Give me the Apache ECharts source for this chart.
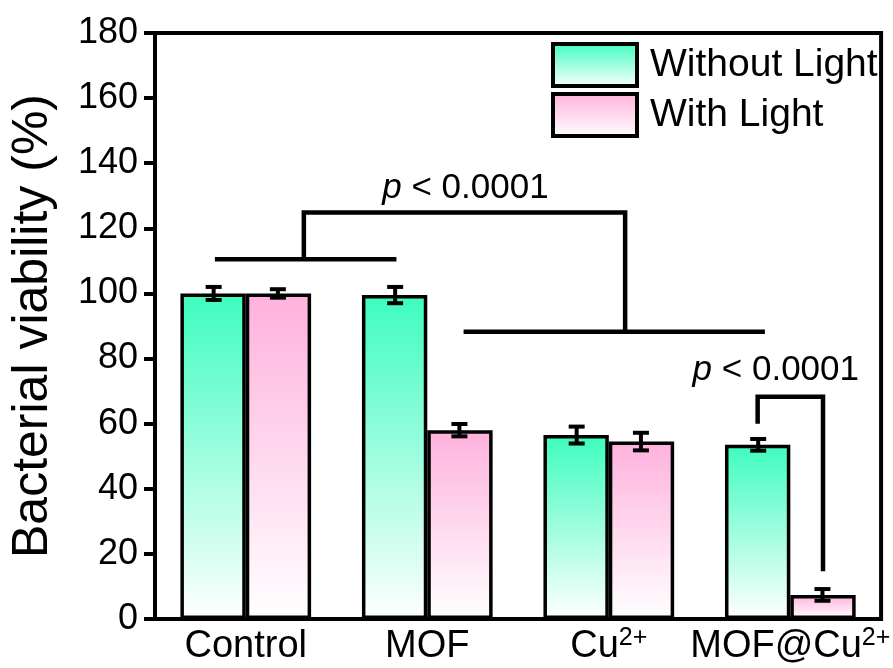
<!DOCTYPE html>
<html>
<head>
<meta charset="utf-8">
<script src="https://cdn.jsdelivr.net/npm/echarts@6/dist/echarts.min.js"></script>
<style>
  html, body { margin: 0; padding: 0; background: #fff; }
  #main { width: 893px; height: 668px; }
</style>
</head>
<body>
<div id="main"></div>
<script>
// data
var categories = ['Control', 'MOF', 'Cu2+', 'MOF@Cu2+'];
var withoutLight = [100, 99.5, 56.5, 53.5];
var withoutLightErr = [2, 2.5, 2.6, 1.8];
var withLight = [100, 58, 54.5, 7.4];
var withLightErr = [1.3, 1.9, 2.7, 1.8];

// significance brackets, x in category units (0 = Control centre), y in %
var brackets = [
    [[-0.17, 110.5], [0.83, 110.5]],
    [[0.32, 110.5], [0.32, 124.9], [2.09, 124.9], [2.09, 88.2]],
    [[1.2, 88.2], [2.86, 88.2]],
    [[2.82, 60], [2.82, 68.3], [3.18, 68.3], [3.18, 14.7]]
];
var pLabels = [
    { x: 1.21, y: 132.3, text: '{i|p} < 0.0001' },
    { x: 2.92, y: 76.5, text: '{i|p} < 0.0001' }
];

var FONT = 'Liberation Sans, Arial, sans-serif';
var BAR_HALF = 0.177; // half bar width as share of a category band

function grad(top) {
    return {
        type: 'linear', x: 0, y: 0, x2: 0, y2: 1,
        colorStops: [{ offset: 0, color: top }, { offset: 1, color: '#ffffff' }]
    };
}
var greenFill = grad('#3dfcbe');
var pinkFill = grad('#ffb1dc');

function errData(vals, errs, side) {
    return vals.map(function (v, i) { return [i, v, errs[i], side]; });
}

function renderErr(params, api) {
    var i = api.value(0), v = api.value(1), e = api.value(2), side = api.value(3);
    var bw = api.size([1, 0])[0];
    var cx = api.coord([i, v])[0] + side * bw * BAR_HALF;
    var yHi = api.coord([i, v + e])[1];
    var yLo = api.coord([i, v - e])[1];
    var cap = 8;
    var st = { stroke: '#000', lineWidth: 4 };
    return {
        type: 'group',
        children: [
            { type: 'line', shape: { x1: cx, y1: yHi, x2: cx, y2: yLo }, style: st },
            { type: 'line', shape: { x1: cx - cap, y1: yHi, x2: cx + cap, y2: yHi }, style: st },
            { type: 'line', shape: { x1: cx - cap, y1: yLo, x2: cx + cap, y2: yLo }, style: st }
        ]
    };
}

var myChart = echarts.init(document.getElementById('main'));
var option = {
    backgroundColor: '#fff',
    animation: false,
    grid: {
        left: 155, right: 9, top: 33, bottom: 47,
        show: true, borderColor: '#000', borderWidth: 4
    },
    legend: {
        orient: 'vertical',
        left: 551, top: 42, padding: 0,
        itemWidth: 84, itemHeight: 42, itemGap: 4,
        icon: 'rect',
        textStyle: { fontSize: 39, fontFamily: FONT, color: '#000', padding: [0, 0, 0, 8] },
        data: [
            { name: 'Without Light', itemStyle: { color: greenFill, borderColor: '#000', borderWidth: 4 } },
            { name: 'With Light', itemStyle: { color: pinkFill, borderColor: '#000', borderWidth: 4 } }
        ]
    },
    xAxis: [
        {
            type: 'category',
            data: categories,
            axisLine: { lineStyle: { color: '#000', width: 4 } },
            axisTick: { show: false },
            axisLabel: {
                interval: 0,
                fontSize: 38, fontFamily: FONT, color: '#000', margin: 7, lineHeight: 42,
                formatter: function (v) { return v.replace('2+', '{sup|2+}'); },
                rich: { sup: { fontSize: 25, fontFamily: FONT, color: '#000', verticalAlign: 'top', lineHeight: 42 } }
            }
        },
        { type: 'value', min: -0.5, max: 3.5, show: false }
    ],
    yAxis: {
        type: 'value',
        min: 0, max: 180, interval: 20,
        name: 'Bacterial viability (%)',
        nameLocation: 'middle',
        nameGap: 97,
        nameTextStyle: { fontSize: 50, fontFamily: FONT, color: '#000' },
        axisLine: { show: true, onZero: false, lineStyle: { color: '#000', width: 4 } },
        axisTick: { show: true, length: 11, lineStyle: { color: '#000', width: 4 } },
        axisLabel: { fontSize: 36, fontFamily: FONT, color: '#000', margin: 17 },
        splitLine: { show: false }
    },
    series: [
        {
            name: 'Without Light', type: 'bar', data: withoutLight,
            barGap: '0%', barCategoryGap: '28%',
            itemStyle: { color: greenFill, borderColor: '#000', borderWidth: 3.5 }
        },
        {
            name: 'With Light', type: 'bar', data: withLight,
            itemStyle: { color: pinkFill, borderColor: '#000', borderWidth: 3.5 }
        },
        {
            type: 'custom', renderItem: renderErr, z: 5,
            data: errData(withoutLight, withoutLightErr, -1)
        },
        {
            type: 'custom', renderItem: renderErr, z: 5,
            data: errData(withLight, withLightErr, 1)
        },
        {
            type: 'custom', xAxisIndex: 1, z: 6, clip: false, silent: true,
            data: brackets.map(function (b, i) { return [i, 0]; }),
            renderItem: function (params, api) {
                var pts = brackets[params.dataIndex].map(function (p) { return api.coord(p); });
                return {
                    type: 'polyline',
                    shape: { points: pts },
                    style: { stroke: '#000', lineWidth: 4.5, fill: null, lineJoin: 'miter' }
                };
            }
        },
        {
            type: 'custom', xAxisIndex: 1, z: 6, clip: false, silent: true,
            data: pLabels.map(function (p, i) { return [p.x, p.y]; }),
            renderItem: function (params, api) {
                var pt = api.coord([api.value(0), api.value(1)]);
                return {
                    type: 'text',
                    x: pt[0], y: pt[1],
                    style: {
                        text: pLabels[params.dataIndex].text,
                        fontSize: 35, fontFamily: FONT, fill: '#000',
                        textAlign: 'center', textVerticalAlign: 'middle',
                        align: 'center', verticalAlign: 'middle',
                        rich: { i: { fontSize: 35, fontFamily: FONT, fontStyle: 'italic', fill: '#000', color: '#000' } }
                    }
                };
            }
        }
    ]
};
myChart.setOption(option);
</script>
</body>
</html>
